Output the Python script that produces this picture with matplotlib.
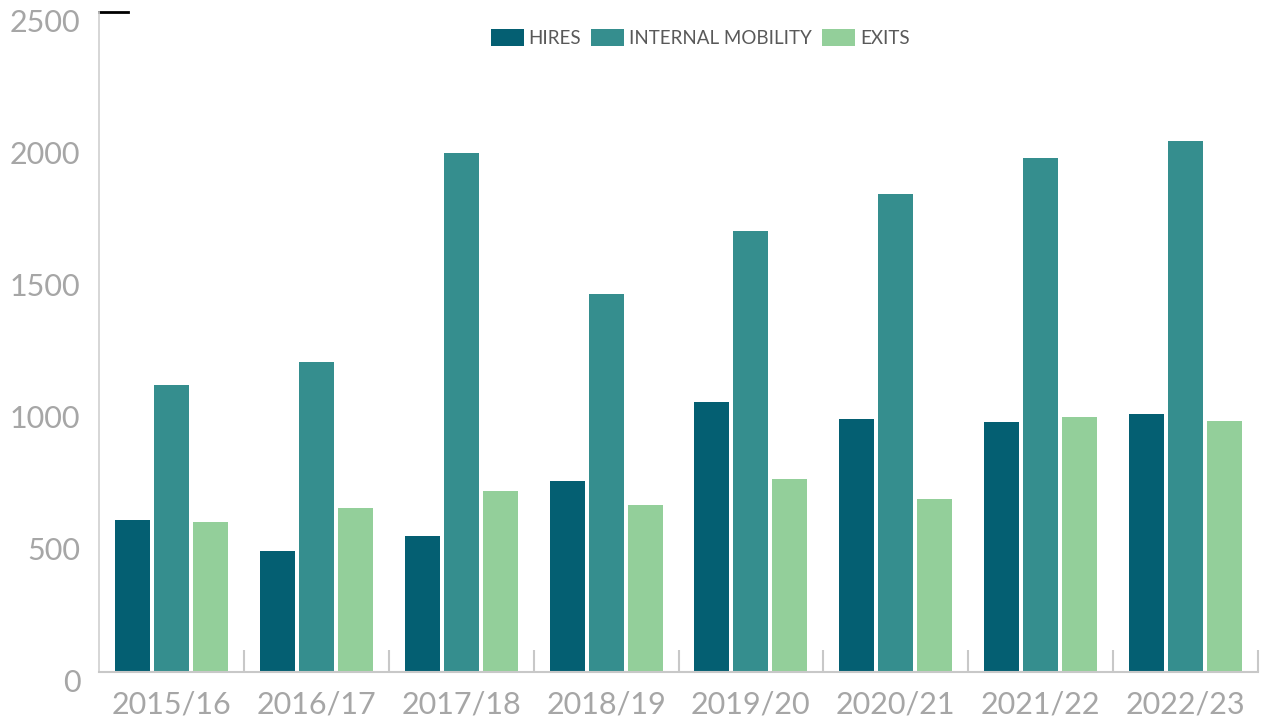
import matplotlib
matplotlib.use("Agg")
import matplotlib.pyplot as plt
import matplotlib.transforms as mtransforms
import numpy as np
from matplotlib.lines import Line2D

years = ["2015/16", "2016/17", "2017/18", "2018/19", "2019/20", "2020/21", "2021/22", "2022/23"]
hires = [576, 458, 515, 723, 1023, 958, 947, 977]
internal_mobility = [1087, 1174, 1966, 1432, 1670, 1811, 1947, 2011]
exits = [568, 621, 686, 633, 731, 655, 966, 951]

plt.rcParams['font.family'] = ['Lato', 'DejaVu Sans']

fig = plt.figure(figsize=(12.62, 7.17), dpi=100)
ax = fig.add_axes([99 / 1262, 1 - 672 / 717, 1159 / 1262, 660 / 717])

x = np.arange(len(years))
w = 0.242
off = 0.269
ax.bar(x - off, hires, w, color='#045f72', label='HIRES')
ax.bar(x, internal_mobility, w, color='#358e8e', label='INTERNAL MOBILITY')
ax.bar(x + off, exits, w, color='#93cf9a', label='EXITS')

ax.set_xlim(-0.5, len(years) - 0.5)
ax.set_ylim(0, 2500)
ax.set_yticks([0, 500, 1000, 1500, 2000, 2500])
ax.set_xticks(x)
ax.set_xticklabels(years)
ax.set_xticks(np.arange(len(years)) + 0.5, minor=True)

ax.tick_params(axis='y', length=0, pad=13.5, labelsize=22, labelcolor='#a6a6a6')
ax.tick_params(axis='x', which='major', length=0, pad=13, labelsize=22, labelcolor='#a6a6a6')
ax.tick_params(axis='x', which='minor', direction='in', length=16, width=1.5, color='#c8c8c8')
for t in ax.xaxis.get_minor_ticks()[-2:]:
    t.tick1line.set_color('black')

# value labels sit a little below their gridline, as in the original
shift = mtransforms.ScaledTranslation(0, -9 / 100, fig.dpi_scale_trans)
for lbl in ax.get_yticklabels():
    lbl.set_transform(lbl.get_transform() + shift)

for s in ['top', 'right']:
    ax.spines[s].set_visible(False)
ax.spines['left'].set_color('#d0d0d0')
ax.spines['bottom'].set_color('#c8c8c8')
ax.spines['left'].set_linewidth(1.2)
ax.spines['bottom'].set_linewidth(1.5)

# short dark stroke at the top of the value axis
ax.add_line(Line2D([0, 0.025], [1, 1], transform=ax.transAxes, color='black', lw=2, clip_on=False))

leg = ax.legend(loc='center', bbox_to_anchor=(700 / 1262, 679 / 717), bbox_transform=fig.transFigure,
                ncol=3, frameon=False, fontsize=13.5, handlelength=1.76, handleheight=1.0,
                handletextpad=0.25, columnspacing=0.55)
for t in leg.get_texts():
    t.set_color('#595959')

fig.savefig('out.png', dpi=100)
